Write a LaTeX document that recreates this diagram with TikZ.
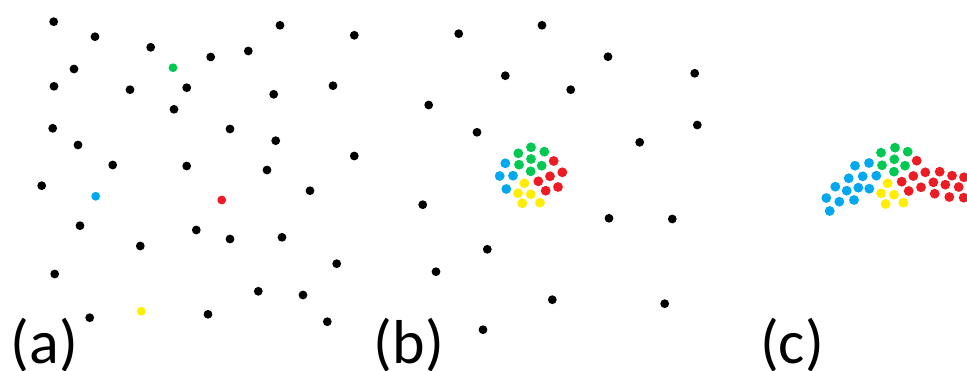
\documentclass[tikz,border=0pt]{standalone}
\usepackage{fontspec}
\setmainfont{Carlito}
\definecolor{ptgreen}{RGB}{0,200,80}
\definecolor{ptblue}{RGB}{0,168,240}
\definecolor{ptred}{RGB}{237,28,36}
\definecolor{ptyellow}{RGB}{255,238,0}
\tikzset{
  lbl/.style={anchor=base west,inner sep=0pt,font=\fontsize{62}{74}\selectfont},
}
\newcommand{\rdot}{4.4}
\newcommand{\rclu}{4.9}
\begin{document}
\begin{tikzpicture}[x=1pt,y=-1pt]
\useasboundingbox (0,0) rectangle (967,371);
% (a) scattered points
\foreach \x/\y in {53.7/21.7,95/36.7,150.7/47.3,280/25.3,354.3/35.3,74/69,210.7/57,248.3/51,
  54/86.3,130/89.7,186.7/87.7,273.7/94.3,333/85.7,174/109.3,52.7/128.3,230/129,78/145,
  275.7/140.7,354.3/156,112.7/165,186.7/166,267/170,41.7/185.7,310/190.7,80/225.7,
  196.3/230,230/239,282/237.3,140.3/246,54.7/274,336.7/263.7,258.3/291.3,303/295,
  89.7/317.7,208/314.3,327.3/321.7}
  \fill (\x,\y) circle (\rdot);
\fill[ptgreen](173,67.7) circle (\rdot);
\fill[ptblue](95.7,196.3) circle (\rdot);
\fill[ptred](221.7,200) circle (\rdot);
\fill[ptyellow](141.3,311.3) circle (\rdot);
% (b) points drawn together
\foreach \x/\y in {458.7/33.7,542/25.3,608/56.7,694.7/73.3,505.3/75.7,570.7/89.7,428.7/105,
  477/132.3,697.3/125,639.7/142.3,422.7/204.7,609/218.3,672.3/219,487.3/249.3,436/271.7,
  552.3/299.7,664.7/303.7,483/329.7}
  \fill (\x,\y) circle (\rdot);
\foreach \x/\y in {518.3/153.3,531/147.3,544.3/151.7,519/164.7,531/159,541.7/165.7,530.7/171.3}
  \fill[ptgreen] (\x,\y) circle (\rclu);
\foreach \x/\y in {505.3/163.3,499.7/176,513/175.7,506.3/189}
  \fill[ptblue] (\x,\y) circle (\rclu);
\foreach \x/\y in {553.7/161,562.3/172.3,550/176.3,538.3/181.3,558/187,545.7/190.7}
  \fill[ptred] (\x,\y) circle (\rclu);
\foreach \x/\y in {524.3/183.3,518/193.3,530.7/194.3,522.3/203.3,540/202.7}
  \fill[ptyellow] (\x,\y) circle (\rclu);
% (c) groups
\foreach \x/\y in {881/152.7,895/147.7,907.7/151.7,882/165.3,894.3/159.3,905/165.7,894/171.7}
  \fill[ptgreen] (\x,\y) circle (\rclu);
\foreach \x/\y in {855/165.7,869/163,848.7/178.3,862.7/176.3,876.3/175.7,835.3/186.7,
  846.7/190.7,858.3/187.7,869.3/188.7,826.3/198,839.3/201.7,854/200,829.7/211}
  \fill[ptblue] (\x,\y) circle (\rclu);
\foreach \x/\y in {887.7/183.3,881/193.3,894/194.7,885.7/204,903.3/202.7}
  \fill[ptyellow] (\x,\y) circle (\rclu);
\foreach \x/\y in {916.7/160.7,913.3/176,925.3/172.3,939.7/171.7,952/175.7,964/177.3,
  901.7/181.7,921/187.3,933.3/182.3,945.3/184.7,958.7/187,908.7/191,934.7/193.7,
  949.3/197,963.7/197.7}
  \fill[ptred] (\x,\y) circle (\rclu);
% labels
\node[lbl] (laba) at (10.5,363) {(a)};
\node[lbl] (labb) at (373.5,363) {(b)};
\node[lbl] (labc) at (760,363) {(c)};
\end{tikzpicture}
\end{document}
